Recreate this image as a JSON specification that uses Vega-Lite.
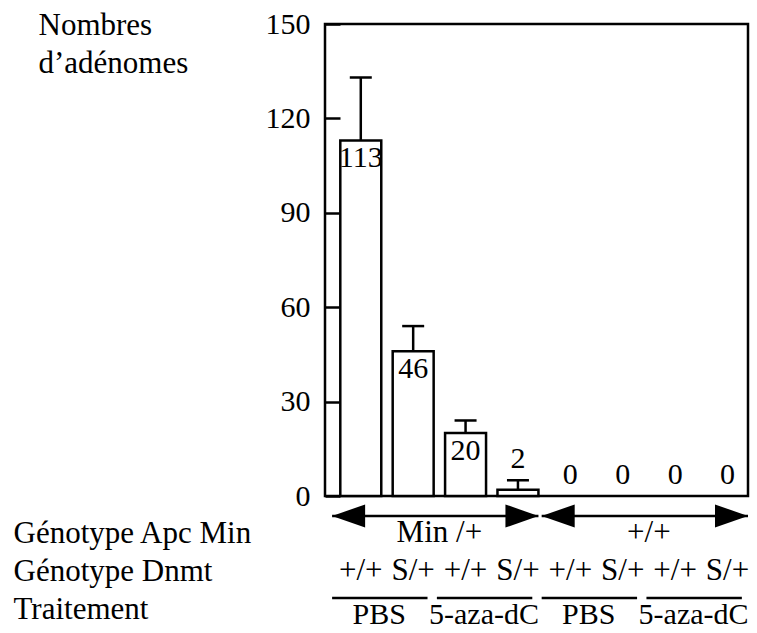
{
  "$schema": "https://vega.github.io/schema/vega-lite/v6.json",
  "background": "white",
  "padding": {"left": 13, "top": 7, "right": 0, "bottom": 0},
  "config": {
    "font": "Liberation Serif",
    "text": {"font": "Liberation Serif", "fontSize": 30, "color": "black"},
    "axis": {"labelFont": "Liberation Serif", "titleFont": "Liberation Serif", "labelFontSize": 30, "labelColor": "black", "titleColor": "black"}
  },
  "datasets": {
    "lots": [
      {"lot": 1, "apc": "Min /+", "dnmt": "+/+", "traitement": "PBS", "adenomes": 113, "haut": 133},
      {"lot": 2, "apc": "Min /+", "dnmt": "S/+", "traitement": "PBS", "adenomes": 46, "haut": 54},
      {"lot": 3, "apc": "Min /+", "dnmt": "+/+", "traitement": "5-aza-dC", "adenomes": 20, "haut": 24},
      {"lot": 4, "apc": "Min /+", "dnmt": "S/+", "traitement": "5-aza-dC", "adenomes": 2, "haut": 5},
      {"lot": 5, "apc": "+/+", "dnmt": "+/+", "traitement": "PBS", "adenomes": 0, "haut": 0},
      {"lot": 6, "apc": "+/+", "dnmt": "S/+", "traitement": "PBS", "adenomes": 0, "haut": 0},
      {"lot": 7, "apc": "+/+", "dnmt": "+/+", "traitement": "5-aza-dC", "adenomes": 0, "haut": 0},
      {"lot": 8, "apc": "+/+", "dnmt": "S/+", "traitement": "5-aza-dC", "adenomes": 0, "haut": 0}
    ],
    "apc": [
      {"apc": "Min /+", "debut": 1, "milieu": 2, "fin": 4},
      {"apc": "+/+", "debut": 5, "milieu": 6, "fin": 8}
    ],
    "traitements": [
      {"traitement": "PBS", "debut": 1, "fin": 2},
      {"traitement": "5-aza-dC", "debut": 3, "fin": 4},
      {"traitement": "PBS", "debut": 5, "fin": 6},
      {"traitement": "5-aza-dC", "debut": 7, "fin": 8}
    ]
  },
  "bounds": "flush",
  "spacing": 37,
  "vconcat": [
    {
      "width": 423,
      "height": 472,
      "view": {"stroke": "black", "strokeWidth": 2.5},
      "data": {"name": "lots"},
      "encoding": {
        "x": {"field": "lot", "type": "ordinal", "axis": null,
              "scale": {"type": "band", "domain": [1, 2, 3, 4, 5, 6, 7, 8], "paddingInner": 0.218, "paddingOuter": 0.146, "align": 1}}
      },
      "layer": [
        {
          "transform": [{"filter": "datum.adenomes > 0"}],
          "mark": {"type": "bar", "fill": "white", "stroke": "black", "strokeWidth": 2.5},
          "encoding": {
            "y": {"field": "adenomes", "type": "quantitative",
                  "scale": {"domain": [0, 150], "nice": false},
                  "axis": {
                    "values": [0, 30, 60, 90, 120, 150],
                    "title": ["Nombres", "d’adénomes"],
                    "titleAngle": 0, "titleAlign": "left", "titleBaseline": "alphabetic",
                    "titleX": -287, "titleY": 10, "titleLineHeight": 38,
                    "titleFontSize": 31, "titleFontWeight": "normal",
                    "domain": false, "grid": false,
                    "tickSize": -15, "tickWidth": 2.5, "tickColor": "black",
                    "labelPadding": 30, "labelFlush": false, "labelBound": false
                  }}
          }
        },
        {
          "transform": [{"filter": "datum.adenomes > 0"}],
          "mark": {"type": "rule", "strokeWidth": 2.5, "color": "black"},
          "encoding": {
            "y": {"field": "adenomes", "type": "quantitative"},
            "y2": {"field": "haut"}
          }
        },
        {
          "transform": [{"filter": "datum.adenomes > 0"}],
          "mark": {"type": "tick", "thickness": 2.5, "size": 22, "color": "black", "opacity": 1},
          "encoding": {
            "y": {"field": "haut", "type": "quantitative"}
          }
        },
        {
          "transform": [{"filter": "datum.adenomes >= 10"}],
          "mark": {"type": "text", "baseline": "top", "dy": 3},
          "encoding": {
            "y": {"field": "adenomes", "type": "quantitative"},
            "text": {"field": "adenomes", "type": "quantitative"}
          }
        },
        {
          "transform": [{"filter": "datum.adenomes < 10"}],
          "mark": {"type": "text", "baseline": "bottom", "dy": -6},
          "encoding": {
            "y": {"field": "haut", "type": "quantitative"},
            "text": {"field": "adenomes", "type": "quantitative"}
          }
        }
      ]
    },
    {
      "width": 423,
      "height": 76,
      "view": {"stroke": null},
      "layer": [
        {
          "data": {"name": "apc"},
          "mark": {"type": "rule", "strokeWidth": 2.5, "color": "black", "yOffset": -17},
          "encoding": {
            "x": {"field": "debut", "type": "ordinal", "bandPosition": -0.2, "axis": null,
                  "scale": {"type": "band", "domain": [1, 2, 3, 4, 5, 6, 7, 8], "paddingInner": 0.218, "paddingOuter": 0.146, "align": 1}},
            "x2": {"field": "fin", "bandPosition": 1},
            "y": {"datum": "Génotype Apc Min", "type": "nominal",
                  "scale": {"type": "point", "domain": ["Génotype Apc Min", "Génotype Dnmt", "Traitement"], "padding": 0},
                  "axis": {"title": null, "domain": false, "ticks": false, "tickSize": 0,
                           "labelAlign": "left", "labelBaseline": "middle", "labelPadding": 312,
                           "labelFontSize": 31, "labelLimit": 400}}
          }
        },
        {
          "data": {"name": "apc"},
          "mark": {"type": "point", "shape": "M0,0L2,-0.7L2,0.7Z", "size": 1089, "filled": true, "color": "black", "opacity": 1, "yOffset": -17},
          "encoding": {
            "x": {"field": "debut", "type": "ordinal", "bandPosition": -0.2},
            "y": {"datum": "Génotype Apc Min", "type": "nominal"}
          }
        },
        {
          "data": {"name": "apc"},
          "mark": {"type": "point", "shape": "M0,0L-2,-0.7L-2,0.7Z", "size": 1089, "filled": true, "color": "black", "opacity": 1, "yOffset": -17},
          "encoding": {
            "x": {"field": "fin", "type": "ordinal", "bandPosition": 1},
            "y": {"datum": "Génotype Apc Min", "type": "nominal"}
          }
        },
        {
          "data": {"name": "apc"},
          "mark": {"type": "text", "fontSize": 31},
          "encoding": {
            "x": {"field": "milieu", "type": "ordinal", "bandPosition": 1.139},
            "y": {"datum": "Génotype Apc Min", "type": "nominal"},
            "text": {"field": "apc", "type": "nominal"}
          }
        },
        {
          "data": {"name": "lots"},
          "mark": {"type": "text", "fontSize": 31},
          "encoding": {
            "x": {"field": "lot", "type": "ordinal"},
            "y": {"datum": "Génotype Dnmt", "type": "nominal"},
            "text": {"field": "dnmt", "type": "nominal"}
          }
        },
        {
          "data": {"name": "traitements"},
          "mark": {"type": "rule", "strokeWidth": 2.5, "color": "black", "yOffset": -11},
          "encoding": {
            "x": {"field": "debut", "type": "ordinal", "bandPosition": -0.2},
            "x2": {"field": "fin", "bandPosition": 0.85},
            "y": {"datum": "Traitement", "type": "nominal"}
          }
        },
        {
          "data": {"name": "traitements"},
          "mark": {"type": "text", "dy": 6, "fontSize": 30},
          "encoding": {
            "x": {"field": "debut", "type": "ordinal", "bandPosition": 0.95},
            "y": {"datum": "Traitement", "type": "nominal"},
            "text": {"field": "traitement", "type": "nominal"}
          }
        }
      ]
    }
  ]
}
